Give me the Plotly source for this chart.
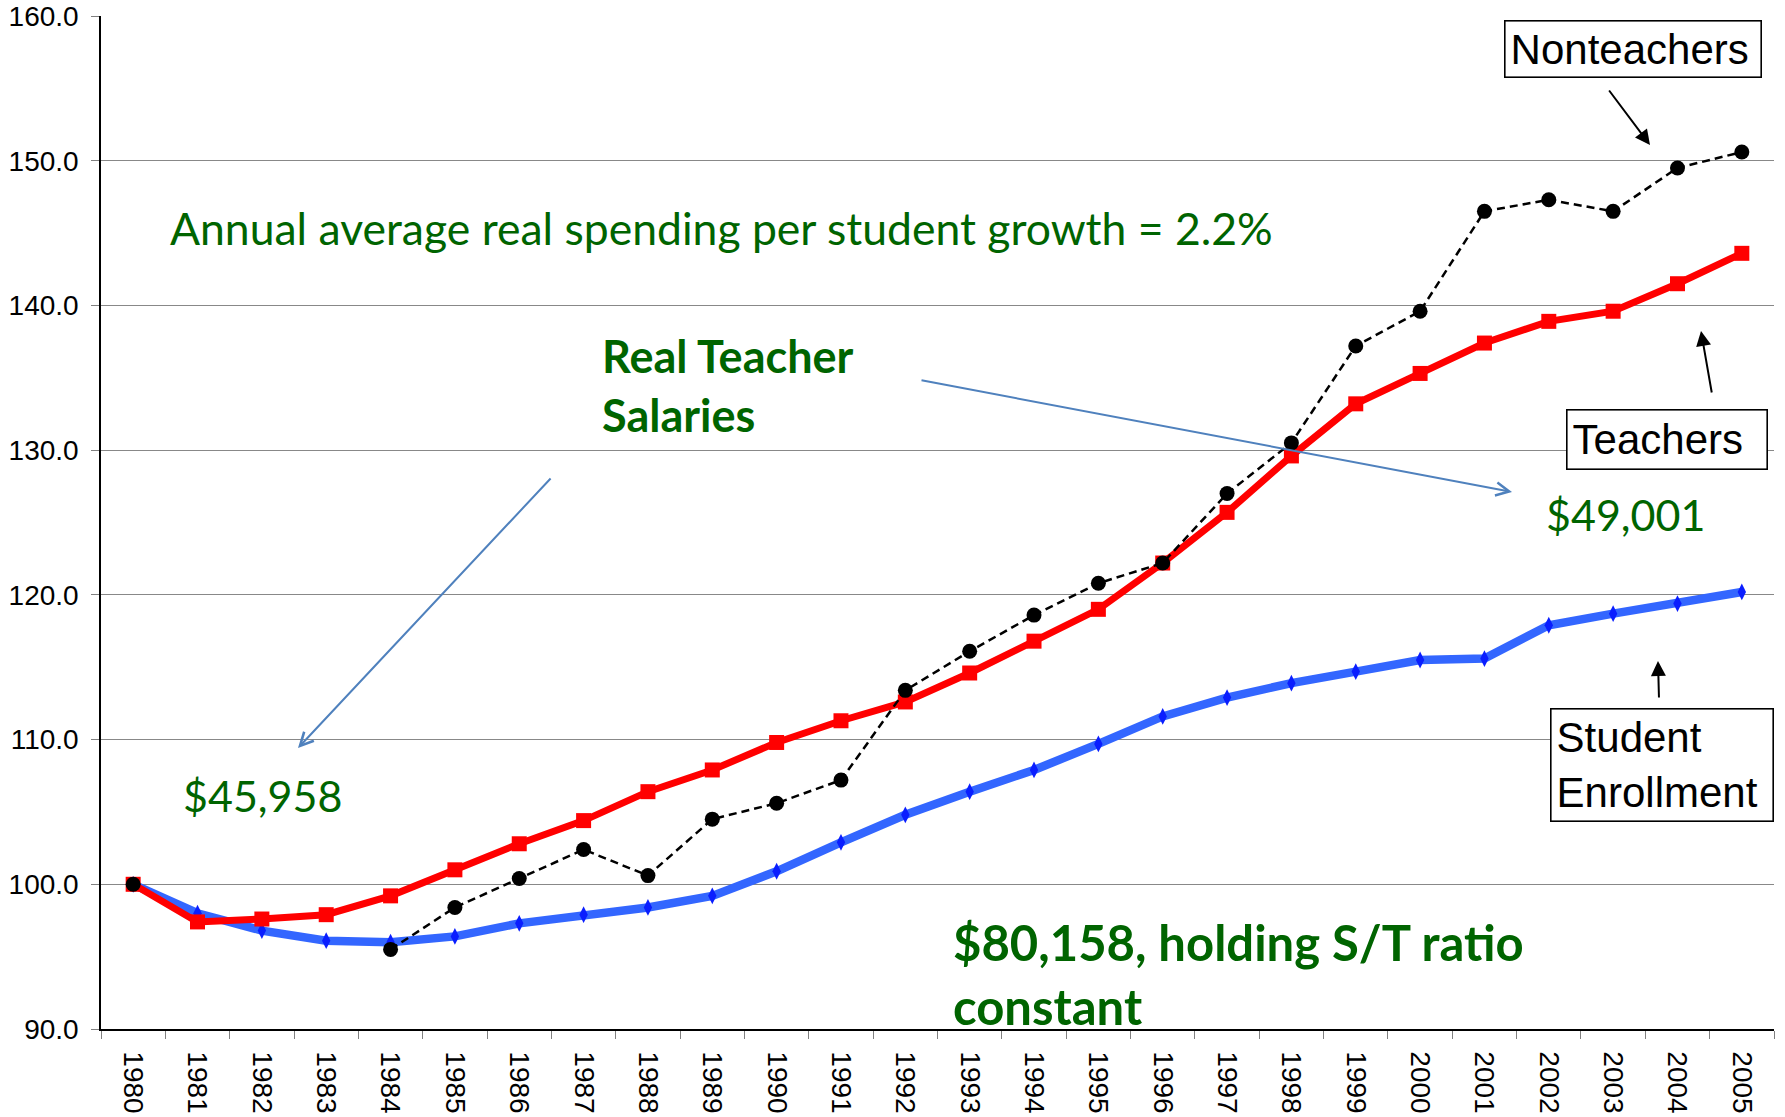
import plotly.graph_objects as go

years = [str(y) for y in range(1980, 2006)]

teachers = [100.0, 97.4, 97.6, 97.9, 99.2, 101.0, 102.8, 104.4, 106.4, 107.9,
            109.8, 111.3, 112.6, 114.6, 116.8, 119.0, 122.2, 125.7, 129.6, 133.2,
            135.3, 137.4, 138.9, 139.6, 141.5, 143.6]

nonteachers = [100.0, None, None, None, 95.5, 98.4, 100.4, 102.4, 100.6, 104.5,
               105.6, 107.2, 113.4, 116.1, 118.6, 120.8, 122.2, 127.0, 130.5, 137.2,
               139.6, 146.5, 147.3, 146.5, 149.5, 150.6]

enrollment = [100.0, 98.0, 96.8, 96.1, 96.0, 96.4, 97.3, 97.9, 98.4, 99.2,
              100.9, 102.9, 104.8, 106.4, 107.9, 109.7, 111.6, 112.9, 113.9, 114.7,
              115.5, 115.6, 117.9, 118.7, 119.4, 120.2]

y_ticks = [90, 100, 110, 120, 130, 140, 150, 160]

W, H = 1785, 1117
ML, MR, MT, MB = 101, 11, 16, 88
PW, PH = W - ML - MR, H - MT - MB


def px(x):
    return (x - ML) / PW


def py(y):
    return 1 - (y - MT) / PH


GREEN = "#006400"
ARIAL = "Liberation Sans, Arial, sans-serif"
CAL = "Lato, Carlito, Calibri, sans-serif"

fig = go.Figure()
fig.add_trace(go.Scatter(
    x=years, y=enrollment, mode="lines+markers", name="Student Enrollment",
    line=dict(color="#3366FF", width=8.5),
    marker=dict(symbol="diamond-tall", size=12, color="#0A1EFF", line=dict(width=0)),
))
fig.add_trace(go.Scatter(
    x=years, y=teachers, mode="lines+markers", name="Teachers",
    line=dict(color="#FF0000", width=7),
    marker=dict(symbol="square", size=15, color="#FF0000", line=dict(width=0)),
))
fig.add_trace(go.Scatter(
    x=years, y=nonteachers, mode="lines+markers", name="Nonteachers",
    connectgaps=False,
    line=dict(color="black", width=2.5, dash="8px,5px"),
    marker=dict(symbol="circle", size=15, color="black", line=dict(width=0)),
))

ann = []


def text_ann(x, y, text, size, bold=False):
    ann.append(dict(
        xref="paper", yref="paper", x=px(x), y=py(y), xanchor="left", yanchor="middle",
        text=("<b>%s</b>" % text) if bold else text, showarrow=False, align="left",
        font=dict(family=CAL, size=size, color=GREEN),
    ))


text_ann(168, 228, "Annual average real spending per student growth = 2.2%", 44.5)
text_ann(600, 385, "Real Teacher<br>Salaries", 45, bold=True)
text_ann(1544, 514, "$49,001", 43)
text_ann(181, 795, "$45,958", 43)
text_ann(951, 974, "$80,158, holding S/T ratio<br>constant", 49, bold=True)


def box_ann(x0, x1, y0, y1, text):
    pad = 5
    ann.append(dict(
        xref="paper", yref="paper", x=px((x0 + x1) / 2), y=py((y0 + y1) / 2),
        xanchor="center", yanchor="middle", text=text, showarrow=False,
        align="left", valign="middle",
        width=(x1 - x0) - 2 * pad - 2, height=(y1 - y0) - 2 * pad - 2,
        borderpad=pad, bordercolor="black", borderwidth=1.6, bgcolor="white",
        font=dict(family=ARIAL, size=42, color="black"),
    ))


box_ann(1504, 1761, 20, 77, "Nonteachers")
box_ann(1566, 1767, 410, 470, "Teachers")
box_ann(1550, 1773, 708, 821, "Student<br>Enrollment")


def arrow_ann(tail, tip, color, width, head, size):
    ann.append(dict(
        xref="paper", yref="paper", x=px(tip[0]), y=py(tip[1]),
        ax=tail[0] - tip[0], ay=tail[1] - tip[1], axref="pixel", ayref="pixel",
        text="", showarrow=True, arrowhead=head, arrowsize=size,
        arrowwidth=width, arrowcolor=color, standoff=0, startstandoff=0,
    ))


arrow_ann((1608, 89), (1650, 145), "black", 2, 2, 1.5)
arrow_ann((1712, 394), (1701, 331), "black", 2, 2, 1.5)
arrow_ann((1659, 699), (1658, 661), "black", 2, 2, 1.5)
arrow_ann((920, 380), (1512, 492), "#4F81BD", 2, 5, 1.3)
arrow_ann((552, 477), (298, 748), "#4F81BD", 2, 5, 1.3)

fig.update_layout(
    width=W, height=H,
    margin=dict(l=ML, r=MR, t=MT, b=MB, pad=0, autoexpand=False),
    paper_bgcolor="white", plot_bgcolor="white",
    showlegend=False,
    annotations=ann,
    xaxis=dict(
        type="category", categoryorder="array", categoryarray=years,
        range=[-0.5, len(years) - 0.5], automargin=False,
        tickangle=90, tickson="boundaries", ticks="outside", ticklen=8,
        tickcolor="#808080", tickwidth=1.3,
        showline=True, linecolor="black", linewidth=1.5,
        showgrid=False, zeroline=False,
        tickfont=dict(family=ARIAL, size=28, color="black"),
        ticklabelstandoff=15,
    ),
    yaxis=dict(
        range=[90, 160], tickvals=y_ticks, tickformat=".1f", automargin=False,
        ticks="outside", ticklen=8, tickcolor="#808080", tickwidth=1.3,
        showline=True, linecolor="black", linewidth=1.5,
        showgrid=True, gridcolor="#888888", gridwidth=1.3, zeroline=False,
        tickfont=dict(family=ARIAL, size=28, color="black"),
        ticklabelstandoff=7,
    ),
)

fig.write_html("out.html", config={"displayModeBar": False},
               post_script="document.body.style.margin='0';document.body.style.overflow='hidden';")
